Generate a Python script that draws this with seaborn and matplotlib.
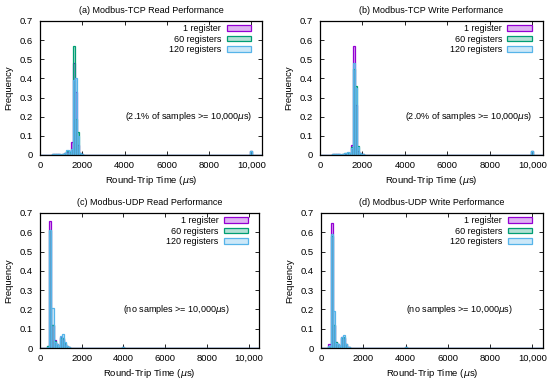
"""Modbus 왕복시간 히스토그램 4종 (TCP/UDP x Read/Write)."""

import matplotlib

matplotlib.use("Agg")
import matplotlib.pyplot as plt  # noqa: E402
import pandas as pd  # noqa: E402
import seaborn as sns  # noqa: E402
from matplotlib.colors import to_rgba  # noqa: E402
from matplotlib.patches import Patch  # noqa: E402

sns.set_theme(style="ticks")
plt.rcParams["font.family"] = ["Liberation Sans", "DejaVu Sans"]
plt.rcParams["font.size"] = 6.5
plt.rcParams["text.color"] = "black"
plt.rcParams["axes.labelcolor"] = "black"
plt.rcParams["xtick.color"] = "black"
plt.rcParams["ytick.color"] = "black"
plt.rcParams["axes.edgecolor"] = "black"

SERIES = ["1 register", "60 registers", "120 registers"]
COLORS = ["#9400d3", "#009e73", "#56b4e9"]

# bin centres (us), 100 us bins
tcp_bins = [600, 700, 800, 900, 1000, 1100, 1200, 1300, 1400, 1500, 1600, 1700, 1800, 1900, 2000, 10000]
a_1 = [0.005, 0.005, 0.004, 0.003, 0.002, 0.003, 0.008, 0.015, 0.02, 0.07, 0.48, 0.33, 0.05, 0.008, 0.003, 0.021]
a_60 = [0.004, 0.006, 0.005, 0.003, 0.002, 0.003, 0.01, 0.02, 0.015, 0.03, 0.57, 0.19, 0.12, 0.01, 0.003, 0.021]
a_120 = [0.003, 0.005, 0.006, 0.004, 0.003, 0.005, 0.012, 0.025, 0.02, 0.03, 0.39, 0.40, 0.10, 0.012, 0.004, 0.021]

b_1 = [0.005, 0.005, 0.004, 0.003, 0.002, 0.003, 0.006, 0.01, 0.012, 0.05, 0.57, 0.26, 0.02, 0.008, 0.003, 0.020]
b_60 = [0.004, 0.005, 0.005, 0.003, 0.002, 0.003, 0.008, 0.012, 0.01, 0.04, 0.45, 0.36, 0.045, 0.01, 0.003, 0.020]
b_120 = [0.003, 0.004, 0.005, 0.003, 0.003, 0.004, 0.01, 0.015, 0.012, 0.035, 0.48, 0.35, 0.04, 0.01, 0.003, 0.020]

udp_bins = [400, 500, 600, 700, 800, 900, 1000, 1100, 1200, 1300, 1400, 4000]
c_1 = [0.01, 0.66, 0.12, 0.04, 0.02, 0.01, 0.055, 0.045, 0.02, 0.008, 0.003, 0.005]
c_60 = [0.008, 0.61, 0.12, 0.035, 0.02, 0.012, 0.05, 0.05, 0.025, 0.01, 0.003, 0.004]
c_120 = [0.006, 0.61, 0.21, 0.03, 0.02, 0.012, 0.063, 0.075, 0.03, 0.01, 0.003, 0.005]

d_1 = [0.02, 0.65, 0.12, 0.03, 0.02, 0.01, 0.055, 0.05, 0.02, 0.005, 0.002, 0.005]
d_60 = [0.01, 0.58, 0.12, 0.03, 0.02, 0.01, 0.05, 0.055, 0.02, 0.005, 0.002, 0.004]
d_120 = [0.008, 0.59, 0.19, 0.025, 0.02, 0.012, 0.055, 0.065, 0.02, 0.006, 0.002, 0.005]

XTICKS = [0, 2000, 4000, 6000, 8000, 10000]
XTICK_LABELS = ["0", "2000", "4000", "6000", "8000", "10,000"]
YTICKS = [0, 0.1, 0.2, 0.3, 0.4, 0.5, 0.6, 0.7]
YTICK_LABELS = ["0", "0.1", "0.2", "0.3", "0.4", "0.5", "0.6", "0.7"]

PANELS = [
    ("(a) Modbus-TCP Read Performance", tcp_bins, [a_1, a_60, a_120],
     "(2.1% of samples >= 10,000$\\mu$s)", [40, 21, 262, 155]),
    ("(b) Modbus-TCP Write Performance", tcp_bins, [b_1, b_60, b_120],
     "(2.0% of samples >= 10,000$\\mu$s)", [320, 21, 543, 155]),
    ("(c) Modbus-UDP Read Performance", udp_bins, [c_1, c_60, c_120],
     "(no samples >= 10,000$\\mu$s)", [40, 213, 259, 348]),
    ("(d) Modbus-UDP Write Performance", udp_bins, [d_1, d_60, d_120],
     "(no samples >= 10,000$\\mu$s)", [321, 213, 543, 348]),
]

W, H = 550, 379
EDGES = list(range(-50, 10551, 100))  # list, not ndarray (seaborn checks bins == "auto")

fig = plt.figure(figsize=(W / 100, H / 100), dpi=100)

for title, centres, vals, note, (x0, y0, x1, y1) in PANELS:
    ax = fig.add_axes([x0 / W, (H - y1) / H, (x1 - x0) / W, (y1 - y0) / H])
    for v, c in zip(vals, COLORS):
        d = pd.DataFrame({"rtt": centres, "freq": v})
        sns.histplot(
            data=d,
            x="rtt",
            weights="freq",
            bins=EDGES,
            stat="count",
            facecolor=to_rgba(c, 0.3),
            edgecolor=c,
            linewidth=0.9,
            ax=ax,
        )
    ax.set_xlim(0, 10500)
    ax.set_ylim(0, 0.7)
    ax.set_xticks(XTICKS, XTICK_LABELS)
    ax.set_yticks(YTICKS, YTICK_LABELS)
    ax.tick_params(direction="in", length=3, width=0.6, top=True, right=True,
                   labelsize=6.8, pad=4)
    ax.tick_params(axis="y", pad=5)
    for s in ax.spines.values():
        s.set_linewidth(0.9)
        s.set_zorder(5)
    ax.set_title(title, fontsize=6.5, pad=6)
    ax.set_xlabel("Round-Trip Time ($\\mu$s)", fontsize=6.8)
    ax.set_ylabel("Frequency", fontsize=6.8)
    ax.xaxis.set_label_coords(0.5, -19 / (y1 - y0))
    ax.yaxis.set_label_coords(-27 / (x1 - x0), 0.5)
    ax.text(4000, 0.2, note, ha="left", va="center", fontsize=6.5)
    handles = [Patch(facecolor=to_rgba(c, 0.3), edgecolor=c, linewidth=0.9) for c in COLORS]
    ax.legend(handles, SERIES, loc="upper right", bbox_to_anchor=(0.95, 0.975),
              frameon=False, markerfirst=False, handlelength=2.7, handleheight=0.55,
              handletextpad=0.6, labelspacing=0.15, borderpad=0, borderaxespad=0,
              fontsize=6.5)

fig.savefig("out.png", dpi=100)
